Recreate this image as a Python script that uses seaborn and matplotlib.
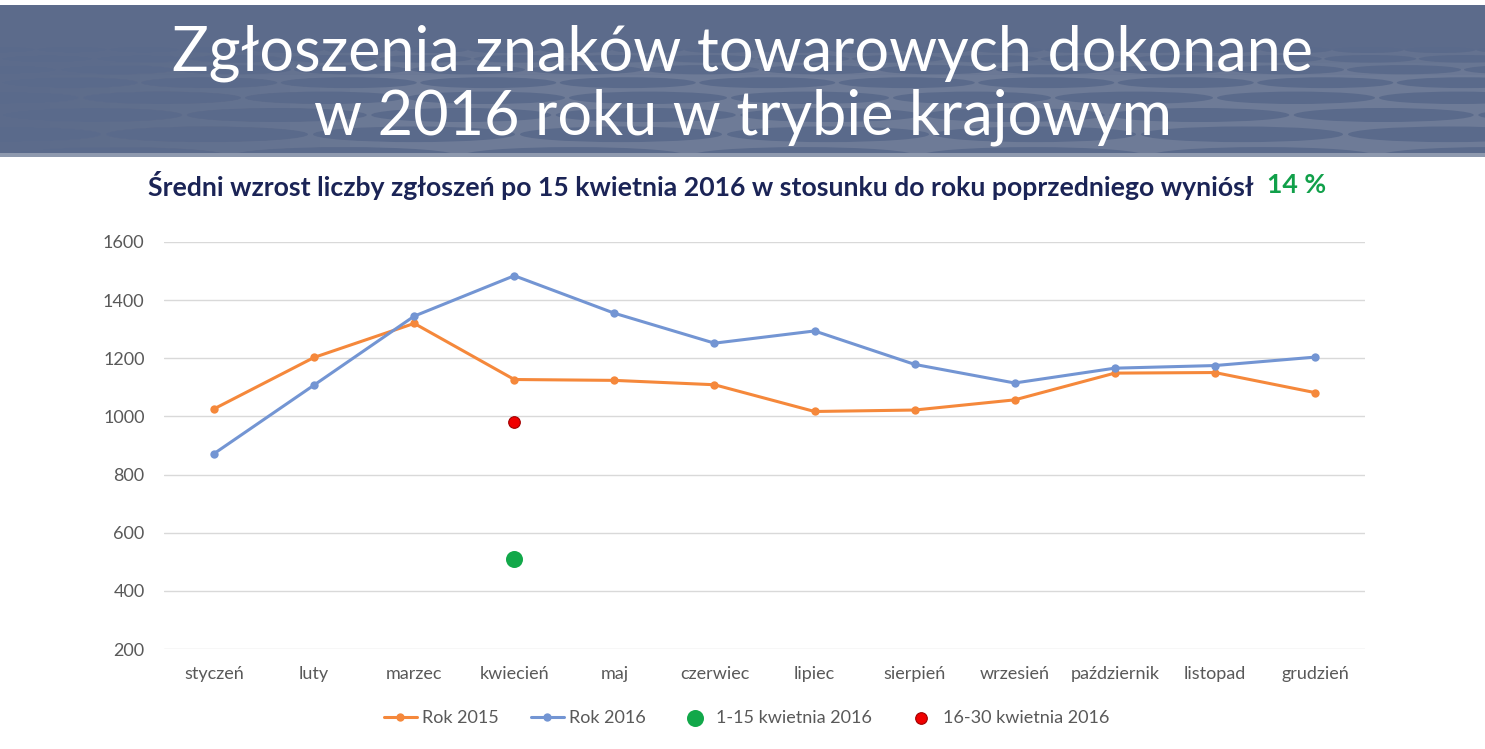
import numpy as np
import pandas as pd
import matplotlib
matplotlib.use('Agg')
import matplotlib.pyplot as plt
import seaborn as sns
from matplotlib.patches import Ellipse, Rectangle

# Dane: zgłoszenia znaków towarowych (tryb krajowy)
miesiace = ['styczeń', 'luty', 'marzec', 'kwiecień', 'maj', 'czerwiec', 'lipiec',
            'sierpień', 'wrzesień', 'październik', 'listopad', 'grudzień']
rok_2015 = [1026, 1203, 1320, 1127, 1124, 1109, 1017, 1022, 1057, 1149, 1151, 1082]
rok_2016 = [872, 1108, 1345, 1484, 1355, 1252, 1294, 1179, 1115, 1166, 1175, 1204]
kwiecien_1_15 = 510
kwiecien_16_30 = 980
y_ticks = [200, 400, 600, 800, 1000, 1200, 1400, 1600]

df = pd.DataFrame({'Miesiąc': miesiace, 'Rok 2015': rok_2015, 'Rok 2016': rok_2016})

sns.set_style('white')
plt.rcParams['font.family'] = ['Lato', 'DejaVu Sans']

W, H = 1485, 749
fig = plt.figure(figsize=(W / 100, H / 100), dpi=100)

# Baner z tytułem
ban = fig.add_axes([0, 1 - 157 / H, 1, 152 / H])
ban.set_xlim(0, W)
ban.set_ylim(152, 0)
ban.axis('off')
ban.add_patch(Rectangle((0, 0), W, 152, color='#5c6b8b', zorder=0, lw=0))
# jaśniejsza siatka w dolnej części
ban.add_patch(Rectangle((0, 45), W, 107, color='#6e7b97', zorder=0.5, lw=0))
# komórki plastra miodu w perspektywie (ciemniejsze niż siatka)
y = 42
r = 0
while y < 160:
    h = 6 + r * 1.6
    gap = 2 + r * 0.5
    w = 70 + r * 22
    off = (r % 2) * (w + gap) * 0.5
    k = -1
    while k * (w + gap) < W + w:
        xc = k * (w + gap) + off
        ban.add_patch(Ellipse((xc, y + h / 2), w, h, color='#5a6a8b', zorder=1, lw=0))
        k += 1
    y += h + gap
    r += 1
# wygaszenie wzoru po lewej i u góry
for i in range(12):
    ban.add_patch(Rectangle((0, 0), 380 - i * 30, 152, color='#5c6b8b', alpha=0.12,
                            zorder=2, lw=0))
for i in range(6):
    ban.add_patch(Rectangle((0, 0), W, 70 - i * 6, color='#5c6b8b', alpha=0.15,
                            zorder=2, lw=0))
ban.add_patch(Rectangle((0, 148), W, 4, color='#8e99ae', zorder=5, lw=0))
ban.text(W / 2, 48, 'Zgłoszenia znaków towarowych dokonane', color='white',
         fontsize=44, ha='center', va='center', zorder=6)
ban.text(W / 2, 112, 'w 2016 roku w trybie krajowym', color='white',
         fontsize=44, ha='center', va='center', zorder=6)

# Podtytuł
fig.text(148 / W, 1 - 185 / H,
         'Średni wzrost liczby zgłoszeń po 15 kwietnia 2016 w stosunku do roku poprzedniego wyniósł',
         color='#1b2456', fontsize=19.2, fontweight='bold', ha='left', va='center')
fig.text(1267 / W, 1 - 185 / H, '14 %', color='#11a04a', fontsize=19.2,
         fontweight='bold', ha='left', va='center')

# Wykres
ax = fig.add_axes([164 / W, 1 - 649 / H, 1201 / W, 407 / H])
sns.lineplot(data=df, x='Miesiąc', y='Rok 2015', ax=ax, sort=False, color='#f5883b',
             lw=2.2, marker='o', markersize=6, markeredgewidth=0, label='Rok 2015')
sns.lineplot(data=df, x='Miesiąc', y='Rok 2016', ax=ax, sort=False, color='#7395d3',
             lw=2.2, marker='o', markersize=6, markeredgewidth=0, label='Rok 2016')
sns.scatterplot(x=['kwiecień'], y=[kwiecien_1_15], ax=ax, color='#12a84a', s=150,
                linewidth=0, label='1-15 kwietnia 2016', zorder=4)
sns.scatterplot(x=['kwiecień'], y=[kwiecien_16_30], ax=ax, color='#f00000', s=120,
                edgecolor='#a00000', linewidth=0.8, label='16-30 kwietnia 2016', zorder=4)

ax.set_xlim(-0.5, len(miesiace) - 0.5)
ax.set_ylim(200, 1600)
ax.set_yticks(y_ticks)
ax.grid(axis='y', color='#d9d9d9', lw=1)
ax.set_axisbelow(True)
for s in ax.spines.values():
    s.set_visible(False)
ax.set_xlabel('')
ax.set_ylabel('')
ax.tick_params(axis='both', colors='#595959', labelsize=13, length=0)
ax.tick_params(axis='y', pad=14)
ax.tick_params(axis='x', pad=12)

handles, labels = ax.get_legend_handles_labels()
handles[3].set_sizes([70])
leg = ax.legend(handles, labels, loc='center', bbox_to_anchor=(0.485, -0.17), ncol=4,
                frameon=False, fontsize=13, handlelength=1.8, handletextpad=0.3,
                columnspacing=1.8, labelcolor='#595959')

fig.savefig('out.png', dpi=100)
